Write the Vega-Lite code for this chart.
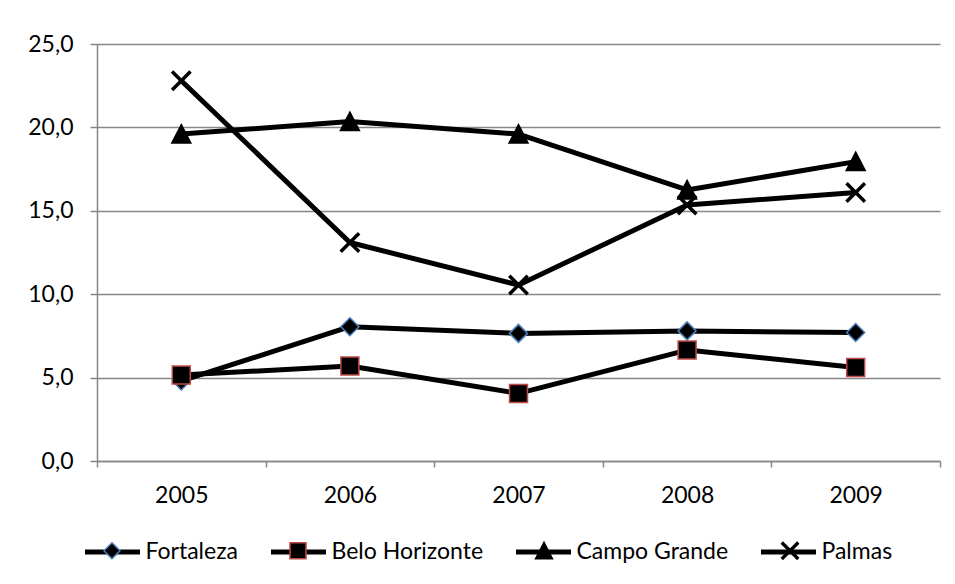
{
  "$schema": "https://vega.github.io/schema/vega-lite/v6.json",
  "width": 843,
  "height": 417,
  "autosize": {"type": "none"},
  "padding": {"left": 97, "top": 44, "right": 15, "bottom": 123},
  "background": "white",
  "config": {
    "view": {"stroke": null},
    "font": "Lato",
    "locale": {"number": {"decimal": ",", "thousands": ".", "grouping": [3], "currency": ["R$", ""]}}
  },
  "data": {
    "values": [
      {"year": "2005", "city": "Fortaleza", "value": 4.8},
      {"year": "2006", "city": "Fortaleza", "value": 8.05},
      {"year": "2007", "city": "Fortaleza", "value": 7.65},
      {"year": "2008", "city": "Fortaleza", "value": 7.8},
      {"year": "2009", "city": "Fortaleza", "value": 7.7},
      {"year": "2005", "city": "Belo Horizonte", "value": 5.15},
      {"year": "2006", "city": "Belo Horizonte", "value": 5.7},
      {"year": "2007", "city": "Belo Horizonte", "value": 4.05},
      {"year": "2008", "city": "Belo Horizonte", "value": 6.65},
      {"year": "2009", "city": "Belo Horizonte", "value": 5.6},
      {"year": "2005", "city": "Campo Grande", "value": 19.6},
      {"year": "2006", "city": "Campo Grande", "value": 20.35},
      {"year": "2007", "city": "Campo Grande", "value": 19.6},
      {"year": "2008", "city": "Campo Grande", "value": 16.25},
      {"year": "2009", "city": "Campo Grande", "value": 17.95},
      {"year": "2005", "city": "Palmas", "value": 22.8},
      {"year": "2006", "city": "Palmas", "value": 13.1},
      {"year": "2007", "city": "Palmas", "value": 10.55},
      {"year": "2008", "city": "Palmas", "value": 15.35},
      {"year": "2009", "city": "Palmas", "value": 16.1}
    ]
  },
  "encoding": {
    "x": {
      "field": "year", "type": "ordinal",
      "scale": {"type": "band", "paddingInner": 0, "paddingOuter": 0},
      "axis": {
        "title": null, "labelAngle": 0, "grid": false,
        "domainColor": "#868686", "domainWidth": 1.5,
        "tickColor": "#868686", "tickWidth": 1.5, "tickSize": 6, "tickBand": "extent",
        "labelFont": "Lato", "labelFontSize": 23, "labelColor": "black", "labelPadding": 17
      }
    },
    "y": {
      "field": "value", "type": "quantitative",
      "scale": {"domain": [0, 25], "nice": false},
      "axis": {
        "title": null, "values": [0, 5, 10, 15, 20, 25], "format": ".1f",
        "grid": true, "gridColor": "#868686", "gridWidth": 1.5,
        "domainColor": "#868686", "domainWidth": 1.5,
        "tickColor": "#868686", "tickWidth": 1.5, "tickSize": 7,
        "labelFont": "Lato", "labelFontSize": 23, "labelColor": "black", "labelPadding": 17
      }
    }
  },
  "layer": [
    {
      "mark": {"type": "line", "strokeWidth": 5, "strokeJoin": "round", "strokeCap": "round"},
      "encoding": {
        "color": {
          "field": "city", "type": "nominal",
          "scale": {"domain": ["Fortaleza", "Belo Horizonte", "Campo Grande", "Palmas"], "range": ["black", "black", "black", "black"]},
          "legend": {
            "orient": "none", "legendX": -14.5, "legendY": 478, "direction": "horizontal",
            "title": null, "symbolType": "stroke", "symbolSize": 3025, "symbolStrokeWidth": 5,
            "labelFont": "Lato", "labelFontSize": 23, "labelColor": "black", "labelOffset": 3,
            "columnPadding": 22, "padding": 0
          }
        }
      }
    },
    {
      "mark": {"type": "point", "filled": true, "size": 400, "fill": "black", "strokeWidth": 1.5, "opacity": 1},
      "encoding": {
        "shape": {
          "field": "city", "type": "nominal", "sort": null,
          "scale": {"range": [
            "M-3.29,0M3.29,0M-0.9,0L0,-0.9L0.9,0L0,0.9Z",
            "M-3.29,0M3.29,0M-0.9,-0.9L0.9,-0.9L0.9,0.9L-0.9,0.9Z",
            "M-3.29,0M3.29,0M0,-0.95L0.95,0.9L-0.95,0.9Z",
            "M-3.29,0M3.29,0M-0.8,-0.94L0.94,0.8L0.8,0.94L-0.94,-0.8Z M0.8,-0.94L0.94,-0.8L-0.8,0.94L-0.94,0.8Z"
          ]},
          "legend": {
            "orient": "none", "legendX": 3.5, "legendY": 495, "direction": "horizontal",
            "title": null, "symbolSize": 317, "symbolStrokeWidth": 1.5, "symbolOffset": 0,
            "labelFont": "Lato", "labelFontSize": 23, "labelColor": "black", "labelOffset": 21.5, "labelOpacity": 0,
            "columnPadding": 28, "padding": 0
          }
        },
        "stroke": {
          "field": "city", "type": "nominal", "sort": null,
          "scale": {"range": ["#4A7EBB", "#BE4B48", "black", "black"]},
          "legend": {
            "orient": "none", "legendX": 3.5, "legendY": 495, "direction": "horizontal",
            "title": null, "symbolSize": 317, "symbolStrokeWidth": 1.5, "symbolOffset": 0,
            "labelFont": "Lato", "labelFontSize": 23, "labelColor": "black", "labelOffset": 21.5, "labelOpacity": 0,
            "columnPadding": 28, "padding": 0
          }
        }
      }
    }
  ]
}
